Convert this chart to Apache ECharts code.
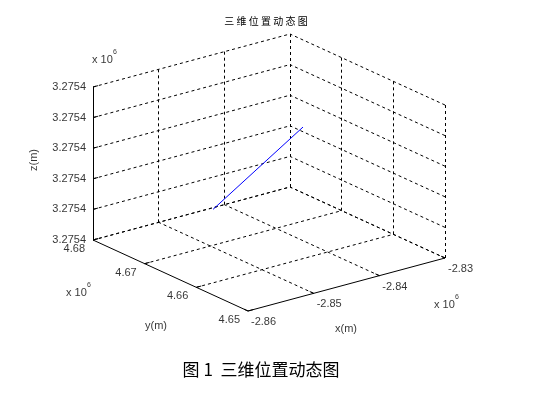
<!DOCTYPE html>
<html>
<head>
<meta charset="utf-8">
<script src="https://cdn.jsdelivr.net/npm/echarts@6/dist/echarts.min.js"></script>
<style>
  html, body { margin: 0; padding: 0; background: #fff; }
  #main { width: 550px; height: 394px; }
</style>
</head>
<body>
<div id="main"></div>
<script>
// axis ticks (metres)
var xTicks = [-2860000, -2850000, -2840000, -2830000];
var yTicks = [4650000, 4660000, 4670000, 4680000];
var zTicks = [3275400, 3275401, 3275402, 3275403, 3275404, 3275405];
// trajectory (metres)
var trackX = [-2848800, -2835100];
var trackY = [4671000, 4671000];
var trackZ = [3275401.05, 3275402.95];

var xMin = xTicks[0], xMax = xTicks[xTicks.length - 1];
var yMin = yTicks[0], yMax = yTicks[yTicks.length - 1];
var zMin = zTicks[0], zMax = zTicks[zTicks.length - 1];

// orthographic view of the box, in canvas pixels
var O = [248, 311], EX = [197, -53], EY = [-155, -71], EZ = [0, -153];
function proj(x, y, z) {
    var u = (x - xMin) / (xMax - xMin);
    var v = (y - yMin) / (yMax - yMin);
    var w = (z - zMin) / (zMax - zMin);
    return [O[0] + EX[0] * u + EY[0] * v + EZ[0] * w,
            O[1] + EX[1] * u + EY[1] * v + EZ[1] * w];
}
function seg(a, b) { return { coords: [a, b] }; }

var dashed = [], solid = [];
// back wall at y = yMax
xTicks.forEach(function (x, i) {
    if (i > 0) dashed.push(seg(proj(x, yMax, zMin), proj(x, yMax, zMax)));
});
zTicks.forEach(function (z) {
    dashed.push(seg(proj(xMin, yMax, z), proj(xMax, yMax, z)));
});
// back wall at x = xMax
yTicks.forEach(function (y, i) {
    if (i < yTicks.length - 1) dashed.push(seg(proj(xMax, y, zMin), proj(xMax, y, zMax)));
});
zTicks.forEach(function (z) {
    dashed.push(seg(proj(xMax, yMin, z), proj(xMax, yMax, z)));
});
// floor
xTicks.forEach(function (x, i) {
    if (i > 0) dashed.push(seg(proj(x, yMin, zMin), proj(x, yMax, zMin)));
});
yTicks.forEach(function (y, i) {
    if (i > 0) dashed.push(seg(proj(xMin, y, zMin), proj(xMax, y, zMin)));
});

// axes
solid.push(seg(proj(xMin, yMax, zMin), proj(xMin, yMax, zMax)));
solid.push(seg(proj(xMin, yMin, zMin), proj(xMin, yMax, zMin)));
solid.push(seg(proj(xMin, yMin, zMin), proj(xMax, yMin, zMin)));
// tick marks
var tl = 0.025;
zTicks.forEach(function (z) {
    solid.push(seg(proj(xMin, yMax, z), proj(xMin + tl * (xMax - xMin), yMax, z)));
});
yTicks.forEach(function (y) {
    solid.push(seg(proj(xMin, y, zMin), proj(xMin + tl * (xMax - xMin), y, zMin)));
});
xTicks.forEach(function (x) {
    solid.push(seg(proj(x, yMin, zMin), proj(x, yMin + tl * (yMax - yMin), zMin)));
});

// text labels
var labels = [];
function addLabel(p, dx, dy, text, align, size, rotate) {
    labels.push({
        value: [p[0] + dx, p[1] + dy],
        label: { show: true, position: 'inside', formatter: text, align: align,
                 verticalAlign: 'middle', fontSize: size || 11, rotate: rotate || 0 }
    });
}
zTicks.forEach(function (z) {
    addLabel(proj(xMin, yMax, z), -7, 0, (z / 1e6).toFixed(4), 'right');
});
yTicks.forEach(function (y) {
    addLabel(proj(xMin, y, zMin), -8, 9, (y / 1e6).toFixed(2), 'right');
});
xTicks.forEach(function (x) {
    addLabel(proj(x, yMin, zMin), 3, 11, (x / 1e6).toFixed(2), 'left');
});
// exponents
[[92, 60], [66, 293], [434, 305]].forEach(function (p) {
    addLabel(p, 0, 0, 'x 10', 'left');
    addLabel(p, 21, -8, '6', 'left', 7);
});
addLabel([34, 160], 0, 0, 'z(m)', 'center', 11, 90);
addLabel([156, 326], 0, 0, 'y(m)', 'center');
addLabel([346, 329], 0, 0, 'x(m)', 'center');

var trackData = trackX.map(function (x, i) { return proj(x, trackY[i], trackZ[i]); });

var chart = echarts.init(document.getElementById('main'));
chart.setOption({
    animation: false,
    textStyle: { fontFamily: 'Liberation Sans, Arial, sans-serif', color: '#000' },
    title: [{
        text: '三 维 位 置 动 态 图',
        left: 266, top: 16, textAlign: 'center', padding: 0,
        textStyle: { fontSize: 10, fontWeight: 'normal', color: '#000',
                     fontFamily: 'Noto Sans CJK SC' }
    }, {
        text: '图 1  三维位置动态图',
        left: 261, top: 361, textAlign: 'center', padding: 0,
        textStyle: { fontSize: 17, fontWeight: 'normal', color: '#000',
                     fontFamily: 'Noto Sans CJK SC' }
    }],
    grid: { left: 0, right: 0, top: 0, bottom: 0 },
    xAxis: { type: 'value', min: 0, max: 550, show: false },
    yAxis: { type: 'value', min: 0, max: 394, inverse: true, show: false },
    series: [{
        type: 'lines', coordinateSystem: 'cartesian2d', silent: true,
        lineStyle: { color: '#000', width: 1, type: [3, 3], opacity: 1 },
        data: dashed
    }, {
        type: 'lines', coordinateSystem: 'cartesian2d', silent: true,
        lineStyle: { color: '#000', width: 1, type: 'solid', opacity: 1 },
        data: solid
    }, {
        type: 'line', data: trackData, showSymbol: false, silent: true,
        lineStyle: { color: '#0000ff', width: 1 }
    }, {
        type: 'scatter', symbolSize: 0, silent: true, data: labels,
        label: { color: '#000' }
    }]
});
</script>
</body>
</html>
